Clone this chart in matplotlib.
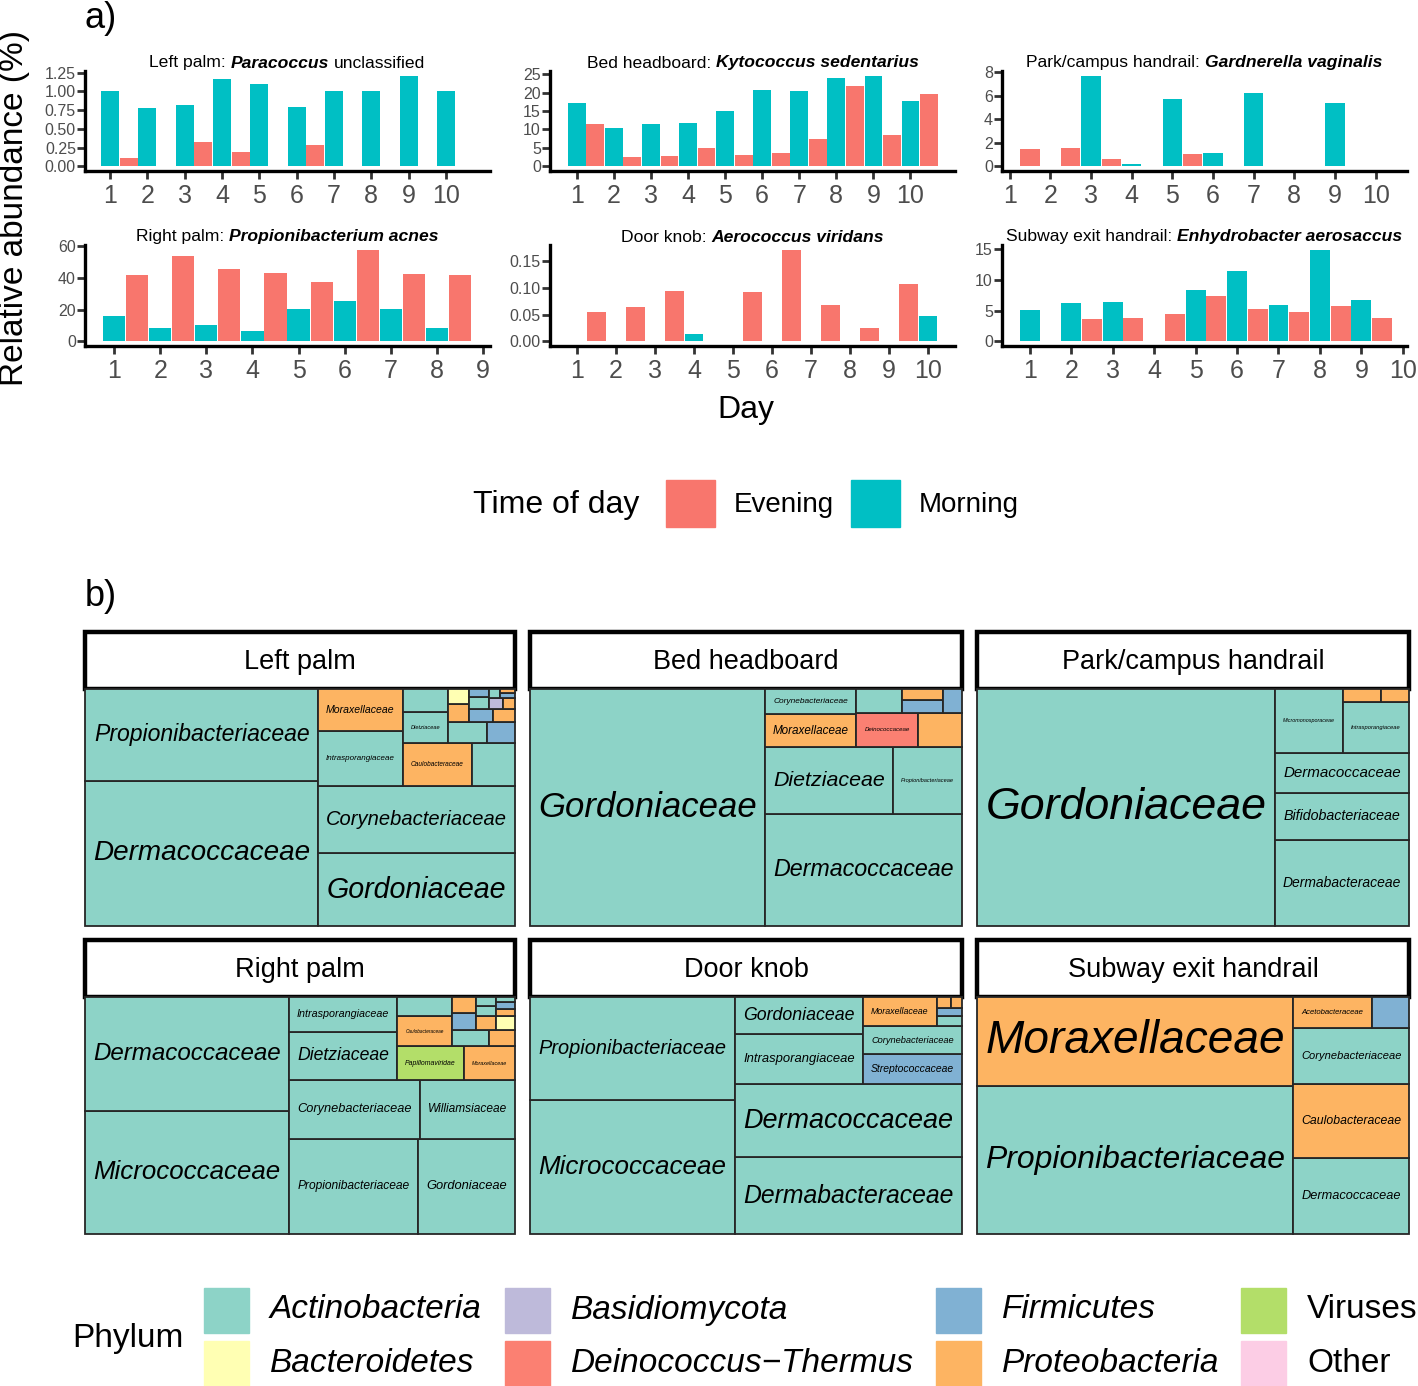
import numpy as np
import matplotlib
matplotlib.use("Agg")
import matplotlib.pyplot as plt
from matplotlib.patches import Rectangle

plt.rcParams['font.family'] = ['Liberation Sans', 'DejaVu Sans']

W, H = 1418, 1386
fig = plt.figure(figsize=(W / 100, H / 100), dpi=100)


def box(x0, y0, x1, y1):
    # pixel box with top-left origin -> figure fraction [l, b, w, h]
    return [x0 / W, 1 - y1 / H, (x1 - x0) / W, (y1 - y0) / H]


EVENING = '#F8766D'
MORNING = '#00BFC4'
GREY = '#4D4D4D'

# ---------------- a) one species per site, by day ----------------
lp_morning = [1.01, 0.78, 0.82, 1.17, 1.10, 0.79, 1.00, 1.01, 1.21, 1.00]
lp_evening = [0.11, 0, 0.33, 0.19, 0, 0.28, 0, 0, 0, 0]
bh_morning = [17.3, 10.5, 11.6, 11.8, 15.1, 20.8, 20.3, 24.0, 24.6, 17.8]
bh_evening = [11.5, 2.6, 2.8, 5.1, 3.1, 3.7, 7.5, 21.9, 8.4, 19.5]
ph_morning = [0, 0, 7.69, 0.23, 5.67, 1.10, 6.24, 0, 5.39, 0]
ph_evening = [1.50, 1.56, 0.65, 0, 1.08, 0, 0, 0, 0, 0]
rp_morning = [15.9, 8.5, 10.2, 6.8, 20.1, 25.7, 20.1, 8.7]
rp_evening = [42.0, 53.4, 45.6, 43.0, 37.5, 57.7, 42.6, 42.0]
dk_morning = [0, 0, 0, 0.013, 0, 0, 0, 0, 0, 0.047]
dk_evening = [0.055, 0.065, 0.095, 0, 0.093, 0.172, 0.069, 0.025, 0.107, 0]
se_morning = [5.05, 6.20, 6.43, 0, 8.35, 11.5, 5.88, 14.9, 6.76, 0]
se_evening = [0, 3.57, 3.80, 4.40, 7.36, 5.27, 4.73, 5.77, 3.80, 0]

lp_yticks = [0, 0.25, 0.5, 0.75, 1.0, 1.25]
bh_yticks = [0, 5, 10, 15, 20, 25]
ph_yticks = [0, 2, 4, 6, 8]
rp_yticks = [0, 20, 40, 60]
dk_yticks = [0, 0.05, 0.10, 0.15]
se_yticks = [0, 5, 10, 15]

bar_panels = [
    dict(title=[('Left palm:', 'normal'), ('Paracoccus', 'italic'), ('unclassified', 'normal')],
         morning=lp_morning, evening=lp_evening, yticks=lp_yticks, fmt='{:.2f}',
         xticks=range(1, 11), xlim=(0.33, 11.18), px=(85, 71, 490, 171)),
    dict(title=[('Bed headboard:', 'normal'), ('Kytococcus sedentarius', 'italic')],
         morning=bh_morning, evening=bh_evening, yticks=bh_yticks, fmt='{:g}',
         xticks=range(1, 11), xlim=(0.28, 11.2), px=(550, 71, 955, 171)),
    dict(title=[('Park/campus handrail:', 'normal'), ('Gardnerella vaginalis', 'italic')],
         morning=ph_morning, evening=ph_evening, yticks=ph_yticks, fmt='{:g}',
         xticks=range(1, 11), xlim=(0.81, 10.77), px=(1002, 71, 1407, 171)),
    dict(title=[('Right palm:', 'normal'), ('Propionibacterium acnes', 'italic')],
         morning=rp_morning, evening=rp_evening, yticks=rp_yticks, fmt='{:g}',
         xticks=range(1, 10), xlim=(0.37, 9.15), px=(85, 245, 490, 346)),
    dict(title=[('Door knob:', 'normal'), ('Aerococcus viridans', 'italic')],
         morning=dk_morning, evening=dk_evening, yticks=dk_yticks, fmt='{:.2f}',
         xticks=range(1, 11), xlim=(0.31, 10.69), px=(550, 245, 955, 346)),
    dict(title=[('Subway exit handrail:', 'normal'), ('Enhydrobacter aerosaccus', 'italic')],
         morning=se_morning, evening=se_evening, yticks=se_yticks, fmt='{:g}',
         xticks=range(1, 11), xlim=(0.33, 10.1), px=(1002, 245, 1407, 346)),
]

renderer = fig.canvas.get_renderer()


def rich_text(xc, yc, parts, size):
    txts = [fig.text(0, 0, s, fontsize=size, style=st,
                     fontweight='bold' if st == 'italic' else 'normal',
                     ha='left', va='center', color='black') for s, st in parts]
    widths = [t.get_window_extent(renderer).width for t in txts]
    space = size * 0.278 * 100 / 72
    x = xc - (sum(widths) + space * (len(txts) - 1)) / 2
    for t, w in zip(txts, widths):
        t.set_position((x / W, 1 - yc / H))
        x += w + space


for p in bar_panels:
    x0, y0, x1, y1 = p['px']
    ax = fig.add_axes(box(x0, y0, x1, y1))
    days = np.arange(1, len(p['morning']) + 1)
    m = np.array(p['morning'], dtype=float)
    e = np.array(p['evening'], dtype=float)
    ax.bar(days[m > 0], m[m > 0], width=0.48, color=MORNING)
    ax.bar(days[e > 0] + 0.5, e[e > 0], width=0.48, color=EVENING)
    top = max(m.max(), e.max())
    ax.set_ylim(-0.05 * top, 1.05 * top)
    ax.set_xlim(*p['xlim'])
    ax.set_yticks(p['yticks'])
    ax.set_yticklabels([p['fmt'].format(v) for v in p['yticks']], fontsize=11.5, color=GREY)
    ax.set_xticks(list(p['xticks']))
    ax.set_xticklabels([str(v) for v in p['xticks']], fontsize=18, color=GREY)
    for s in ['top', 'right']:
        ax.spines[s].set_visible(False)
    for s in ['left', 'bottom']:
        ax.spines[s].set_linewidth(2.4)
        ax.spines[s].set_color('black')
    ax.tick_params(axis='both', length=5.5, width=2, color='#333333')
    ax.tick_params(axis='x', pad=4)
    ax.tick_params(axis='y', pad=1)
    rich_text((x0 + x1) / 2, y0 - 8, p['title'], 12.6)

fig.text(15 / W, 1 - 208 / H, 'Relative abundance (%)', rotation=90, fontsize=24,
         ha='center', va='center')
fig.text(746 / W, 1 - 410 / H, 'Day', fontsize=23, ha='center', va='center')
fig.text(85 / W, 1 - 19 / H, 'a)', fontsize=26, ha='left', va='center')
fig.text(85 / W, 1 - 597 / H, 'b)', fontsize=26, ha='left', va='center')

# time-of-day legend
fig.text(473 / W, 1 - 505 / H, 'Time of day', fontsize=23, ha='left', va='center')
for xk, col, lab in [(666, EVENING, 'Evening'), (851, MORNING, 'Morning')]:
    fig.add_artist(Rectangle((xk / W, 1 - 527 / H), 49 / W, 47 / H, color=col,
                             transform=fig.transFigure))
    fig.text((xk + 68) / W, 1 - 505 / H, lab, fontsize=20, ha='left', va='center')

# ---------------- b) family treemaps coloured by phylum ----------------
phyla = ['Actinobacteria', 'Bacteroidetes', 'Basidiomycota', 'Deinococcus\u2212Thermus',
         'Firmicutes', 'Proteobacteria', 'Viruses', 'Other']
phylum_colors = ['#8DD3C7', '#FFFFB3', '#BEBADA', '#FB8072',
                 '#80B1D3', '#FDB462', '#B3DE69', '#FCCDE5']
PCOL = dict(zip(phyla, phylum_colors))
A, Bc, Ba, D, F, P, V = ('Actinobacteria', 'Bacteroidetes', 'Basidiomycota',
                         'Deinococcus\u2212Thermus', 'Firmicutes', 'Proteobacteria', 'Viruses')

lp_family = ['Dermacoccaceae', 'Propionibacteriaceae', 'Gordoniaceae', 'Corynebacteriaceae',
             'Intrasporangiaceae', 'Moraxellaceae', 'Caulobacteraceae', 'Nocardioidaceae',
             'Dietziaceae', 'Micrococcaceae', 'Brevibacteriaceae', 'Staphylococcaceae',
             'Enterobacteriaceae', 'Flavobacteriaceae', 'Streptococcaceae', 'Sphingomonadaceae',
             'Nocardiaceae', 'Lactobacillaceae', 'Malasseziaceae', 'Comamonadaceae',
             'Microbacteriaceae', 'Bacillaceae', 'Neisseriaceae']
lp_share = [33.2, 21.0, 14.06, 12.9, 4.59, 3.44, 2.90, 1.81, 1.41, 1.01, 0.84, 0.60,
            0.37, 0.31, 0.30, 0.28, 0.22, 0.16, 0.14, 0.12, 0.10, 0.08, 0.06]
lp_phylum = [A, A, A, A, A, P, P, A, A, A, A, F, P, Bc, F, P, A, F, Ba, P, A, F, P]

bh_family = ['Gordoniaceae', 'Dermacoccaceae', 'Dietziaceae', 'Propionibacteriaceae',
             'Moraxellaceae', 'Corynebacteriaceae', 'Deinococcaceae', 'Rhodobacteraceae',
             'Micrococcaceae', 'Staphylococcaceae', 'Pseudomonadaceae', 'Streptococcaceae']
bh_share = [54.4, 21.66, 8.34, 4.50, 2.93, 2.27, 2.05, 1.49, 1.05, 0.50, 0.46, 0.44]
bh_phylum = [A, A, A, A, P, A, D, P, A, F, P, F]

ph_family = ['Gordoniaceae', 'Dermabacteraceae', 'Bifidobacteriaceae', 'Dermacoccaceae',
             'Micromonosporaceae', 'Intrasporangiaceae', 'Moraxellaceae', 'Pseudomonadaceae']
ph_share = [69.0, 11.2, 6.25, 5.21, 4.23, 3.27, 0.48, 0.35]
ph_phylum = [A, A, A, A, A, A, P, P]

rp_family = ['Micrococcaceae', 'Dermacoccaceae', 'Propionibacteriaceae', 'Gordoniaceae',
             'Corynebacteriaceae', 'Williamsiaceae', 'Dietziaceae', 'Intrasporangiaceae',
             'Papillomaviridae', 'Moraxellaceae', 'Caulobacteraceae', 'Brevibacteriaceae',
             'Nocardioidaceae', 'Staphylococcaceae', 'Enterobacteriaceae', 'Sphingomonadaceae',
             'Rhodobacteraceae', 'Flavobacteriaceae', 'Nocardiaceae', 'Microbacteriaceae',
             'Comamonadaceae', 'Streptococcaceae', 'Geodermatophilaceae']
rp_share = [24.48, 22.51, 11.94, 9.0, 7.48, 5.44, 5.08, 3.66, 2.2, 1.68, 1.61, 1.02,
            0.586, 0.38, 0.42, 0.36, 0.26, 0.24, 0.20, 0.18, 0.14, 0.12, 0.10]
rp_phylum = [A, A, A, A, A, A, A, A, V, P, P, A, A, F, P, P, P, Bc, A, A, P, F, A]

dk_family = ['Micrococcaceae', 'Propionibacteriaceae', 'Dermabacteraceae', 'Dermacoccaceae',
             'Intrasporangiaceae', 'Gordoniaceae', 'Streptococcaceae', 'Corynebacteriaceae',
             'Moraxellaceae', 'Dietziaceae', 'Staphylococcaceae', 'Pseudomonadaceae',
             'Rhodobacteraceae']
dk_share = [26.9, 20.54, 17.0, 16.34, 6.22, 4.60, 2.89, 2.67, 2.12, 0.25, 0.20, 0.15, 0.12]
dk_phylum = [A, A, A, A, A, A, F, A, P, A, F, P, P]

se_family = ['Propionibacteriaceae', 'Moraxellaceae', 'Dermacoccaceae', 'Caulobacteraceae',
             'Corynebacteriaceae', 'Acetobacteraceae', 'Staphylococcaceae']
se_share = [45.8, 27.36, 8.57, 8.35, 6.32, 2.38, 1.11]
se_phylum = [A, P, A, P, A, P, F]

tree_panels = [
    ('Left palm', lp_family, lp_share, lp_phylum, (85, 632, 515, 689, 926)),
    ('Bed headboard', bh_family, bh_share, bh_phylum, (530, 632, 962, 689, 926)),
    ('Park/campus handrail', ph_family, ph_share, ph_phylum, (977, 632, 1409, 689, 926)),
    ('Right palm', rp_family, rp_share, rp_phylum, (85, 940, 515, 997, 1234)),
    ('Door knob', dk_family, dk_share, dk_phylum, (530, 940, 962, 997, 1234)),
    ('Subway exit handrail', se_family, se_share, se_phylum, (977, 940, 1409, 997, 1234)),
]


def worst(row, side):
    s = sum(row)
    return max(max(side * side * r / (s * s), (s * s) / (side * side * r)) for r in row)


def squarify(values, x, y, w, h):
    rects = []
    i = 0
    while i < len(values):
        side = min(w, h)
        row = [values[i]]
        j = i + 1
        while j < len(values) and worst(row + [values[j]], side) <= worst(row, side):
            row.append(values[j])
            j += 1
        s = sum(row)
        if w >= h:
            cw = s / h
            yy = y
            for v in row:
                rects.append((x, yy, cw, v / cw))
                yy += v / cw
            x += cw
            w -= cw
        else:
            rh = s / w
            xx = x
            for v in row:
                rects.append((xx, y, v / rh, rh))
                xx += v / rh
            y += rh
            h -= rh
        i = j
    return rects


PAD = 8
for name, fams, shares, phys, (x0, ys, x1, yt, yb) in tree_panels:
    # strip
    sax = fig.add_axes(box(x0, ys, x1, yt))
    sax.set_axis_off()
    sax.add_patch(Rectangle((0, 0), 1, 1, facecolor='white', edgecolor='black',
                            lw=3.2, clip_on=False, transform=sax.transAxes))
    sax.text(0.5, 0.47, name, fontsize=19.5, ha='center', va='center', transform=sax.transAxes)
    # treemap
    ax = fig.add_axes(box(x0, yt, x1, yb))
    ax.set_xlim(0, 1)
    ax.set_ylim(0, 1)
    ax.set_axis_off()
    order = np.argsort(shares)[::-1]
    vals = np.array(shares, dtype=float)[order]
    vals = vals / vals.sum()
    rects = squarify(list(vals), 0.0, 0.0, 1.0, 1.0)
    wpx, hpx = x1 - x0, yb - yt
    for k, (rx, ry, rw, rh) in zip(order, rects):
        ax.add_patch(Rectangle((rx, ry), rw, rh, facecolor=PCOL[phys[k]],
                               edgecolor='#262626', lw=1.3, clip_on=False))
        aw = rw * wpx - 2 * PAD
        ah = rh * hpx - 2 * PAD
        if aw <= 0 or ah <= 0:
            continue
        t = ax.text(rx + rw / 2, ry + rh / 2, fams[k], fontsize=10, style='italic',
                    ha='center', va='center', color='black')
        bb = t.get_window_extent(renderer)
        size = 10 * min(aw / bb.width, ah / bb.height)
        if size < 3:
            t.remove()
        else:
            t.set_fontsize(size)

# phylum legend
fig.text(72 / W, 1 - 1338 / H, 'Phylum', fontsize=24, ha='left', va='center')
key_x = [204, 505, 936, 1241]
key_y = [1288, 1341]
for n, (ph, col) in enumerate(zip(phyla, phylum_colors)):
    cx, cy = key_x[n // 2], key_y[n % 2]
    fig.add_artist(Rectangle((cx / W, 1 - (cy + 45) / H), 45 / W, 45 / H, color=col,
                             transform=fig.transFigure))
    st = 'normal' if ph in ('Viruses', 'Other') else 'italic'
    fig.text((cx + 66) / W, 1 - (cy + 22) / H, ph, fontsize=24, style=st,
             ha='left', va='center')

fig.savefig('out.png', dpi=100)
